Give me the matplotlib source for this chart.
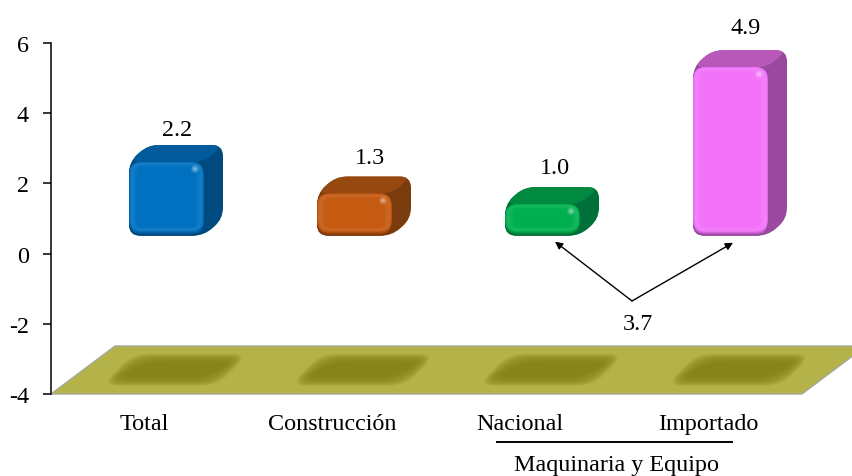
#!/usr/bin/env python3
"""Bar chart with bevelled 3D boxes standing on an olive floor."""
import matplotlib
matplotlib.use("Agg")
import matplotlib.pyplot as plt
import numpy as np
from matplotlib.colors import to_rgb
from matplotlib.patches import PathPatch, Polygon
from matplotlib.path import Path

categories = ["Total", "Construcción", "Nacional", "Importado"]
values = [2.2, 1.3, 1.0, 4.9]
gap_value = 3.7
group_label = "Maquinaria y Equipo"
y_ticks = [-4, -2, 0, 2, 4, 6]

front_colors = ["#0070C0", "#C55A11", "#00B050", "#F273FA"]
top_colors = ["#005A9C", "#96480F", "#008A40", "#B858B8"]
side_colors = ["#004A80", "#7A3C0C", "#00703A", "#9A4A9E"]

# Offsets of the value labels from each box, in pixels and points.
label_dx = [33, 38, 35, 38]
label_lift = [3.4, 6.3, 6.3, 9]

# Data units per pixel on each axis.
PX_X = 1 / 188
PX_Y = 1 / 35.1
BASE = 0.51
TOP_BASE = 0.41
DEPTH_X = 19 * PX_X
DEPTH_Y = 17 * PX_Y
FACE_LEFT = -15 * PX_X
FACE_WIDTH = 75 * PX_X


def blend(color_a, color_b, t):
    a, b = np.array(to_rgb(color_a)), np.array(to_rgb(color_b))
    return tuple(a + (b - a) * t)


def rounded_path(points, radius):
    """Closed path through points (data units), corners rounded by radius px."""
    pts = np.array(points, dtype=float) / [PX_X, PX_Y]
    verts, codes = [], []
    n = len(pts)
    for i in range(n):
        prev_pt, cur, next_pt = pts[i - 1], pts[i], pts[(i + 1) % n]
        to_prev = prev_pt - cur
        to_next = next_pt - cur
        r_in = min(radius, np.linalg.norm(to_prev) / 2)
        r_out = min(radius, np.linalg.norm(to_next) / 2)
        start = cur + to_prev / np.linalg.norm(to_prev) * r_in
        end = cur + to_next / np.linalg.norm(to_next) * r_out
        verts.append(start)
        codes.append(Path.MOVETO if i == 0 else Path.LINETO)
        verts.extend([cur, end])
        codes.extend([Path.CURVE3, Path.CURVE3])
    verts.append(verts[0])
    codes.append(Path.CLOSEPOLY)
    return Path(np.array(verts) * [PX_X, PX_Y], codes)


def rect_points(x0, y0, x1, y1):
    return [(x0, y0), (x1, y0), (x1, y1), (x0, y1)]


def draw_floor(ax):
    left = ax.get_xlim()[0]
    floor_top = -4 + 48 * PX_Y
    floor = Polygon([(left, -4), (left + 64 * PX_X, floor_top),
                     (left + 815 * PX_X, floor_top), (left + 751 * PX_X, -4)],
                    facecolor="#B3B34A", edgecolor="#A8A8A0", linewidth=1.0,
                    zorder=1, clip_on=False)
    ax.add_patch(floor)
    # Soft shadow under each box, built from stacked translucent shapes.
    for i in range(len(categories)):
        cx = i + 31 * PX_X
        for k in range(18):
            half_w = (58 - k * 1.1) * PX_X
            half_h = (16 - k * 0.6) * PX_Y
            skew = 15 * PX_X
            pts = [(cx - half_w - skew, -3.31 - half_h),
                   (cx + half_w - skew, -3.31 - half_h),
                   (cx + half_w + skew, -3.31 + half_h),
                   (cx - half_w + skew, -3.31 + half_h)]
            ax.add_patch(PathPatch(rounded_path(pts, 16), facecolor="#85851A",
                                   edgecolor="none", alpha=0.14, zorder=2))


def draw_box(ax, i, value):
    x0 = i + FACE_LEFT
    x1 = x0 + FACE_WIDTH
    y0 = BASE
    y1 = TOP_BASE + value
    front, top, side = front_colors[i], top_colors[i], side_colors[i]

    outline = [(x0, y0), (x1, y0), (x1 + DEPTH_X, y0 + DEPTH_Y),
               (x1 + DEPTH_X, y1 + DEPTH_Y), (x0 + DEPTH_X, y1 + DEPTH_Y),
               (x0, y1)]
    ax.add_patch(PathPatch(rounded_path(outline, 11), facecolor=side,
                           edgecolor="none", zorder=3))
    top_face = [(x0, y1), (x0 + DEPTH_X, y1 + DEPTH_Y),
                (x1 + DEPTH_X, y1 + DEPTH_Y), (x1, y1)]
    ax.add_patch(PathPatch(rounded_path(top_face, 11), facecolor=top,
                           edgecolor="none", zorder=3.1))

    # Front face: shaded lower rim, then a light bevel fading into the flat colour.
    dark = blend(front, "black", 0.4)
    light = blend(front, "white", 0.1)
    for k in range(5):
        pts = rect_points(x0 + k * 0.15 * PX_X, y0 + k * 1.0 * PX_Y,
                          x1 - k * 0.15 * PX_X, y1)
        ax.add_patch(PathPatch(rounded_path(pts, 12),
                               facecolor=blend(dark, front, k / 4),
                               edgecolor="none", zorder=3.2 + k * 0.01))
    for k in range(1, 13):
        inset = k * 0.7
        if k < 5:
            color = blend(front, light, k / 4)
        else:
            color = blend(light, front, (k - 4) / 8)
        pts = rect_points(x0 + inset * PX_X, y0 + (4 + inset * 0.6) * PX_Y,
                          x1 - inset * PX_X, y1 - inset * 0.6 * PX_Y)
        ax.add_patch(PathPatch(rounded_path(pts, max(12 - k * 0.6, 3)),
                               facecolor=color, edgecolor="none",
                               zorder=3.3 + k * 0.01))

    # Small specular glow at the upper right corner of the face.
    glow_x = x1 - 9 * PX_X
    glow_y = y1 - 7 * PX_Y
    glow = blend(front, "white", 0.55)
    for size, alpha in zip([42, 26, 14, 6], [0.12, 0.2, 0.35, 0.6]):
        ax.scatter([glow_x], [glow_y], s=size, color=[glow], alpha=alpha,
                   edgecolors="none", zorder=3.5)


def plot_boxes():
    plt.rcParams["font.family"] = ["Liberation Serif", "DejaVu Serif"]
    plt.rcParams["axes.unicode_minus"] = False

    fig = plt.figure(figsize=(8.52, 4.77), dpi=100)
    ax = fig.add_axes([51 / 852, 1 - 395 / 477, 801 / 852, 351 / 477])
    ax.set_xlim(-93 * PX_X, 708 * PX_X)
    ax.set_ylim(-4, 6)

    for name in ["top", "right", "bottom"]:
        ax.spines[name].set_visible(False)
    ax.spines["left"].set_linewidth(1.1)
    ax.set_yticks(y_ticks)
    ax.tick_params(axis="y", length=5.8, width=1.1, labelsize=17.4, pad=10)
    ax.set_xticks(range(len(categories)))
    ax.set_xticklabels(categories)
    ax.tick_params(axis="x", length=0, labelsize=17.4, pad=13.5)

    draw_floor(ax)
    for i, value in enumerate(values):
        draw_box(ax, i, value)
        ax.annotate(f"{value:.1f}",
                    (i + label_dx[i] * PX_X, TOP_BASE + value + DEPTH_Y),
                    xytext=(0, label_lift[i]), textcoords="offset points",
                    ha="center", va="bottom", fontsize=17.4,
                    annotation_clip=False)

    # Arrows from the gap label up to the two machinery boxes.
    apex = (2 + 112 * PX_X, -1.35)
    for target in [(2 + 35 * PX_X, 0.34), (3 + 25 * PX_X, 0.31)]:
        ax.annotate("", xy=target, xytext=apex,
                    arrowprops=dict(arrowstyle="-|>", color="black", lw=1.0,
                                    shrinkA=0, shrinkB=0, mutation_scale=11))
    ax.text(2 + 118 * PX_X, -2.0, f"{gap_value:.1f}", ha="center", va="center",
            fontsize=17.4)

    # Bracket line and caption grouping the last two categories.
    line_y = -4 - 48 * PX_Y
    ax.plot([2 - 23 * PX_X, 3 + 24 * PX_X], [line_y, line_y], color="black",
            lw=1.4, clip_on=False)
    ax.text(2 + 96 * PX_X, -4 - 71 * PX_Y, group_label, ha="center",
            va="center", fontsize=17.4, clip_on=False)

    fig.savefig("out.png", dpi=100, facecolor="white")


if __name__ == '__main__':
    plot_boxes()
